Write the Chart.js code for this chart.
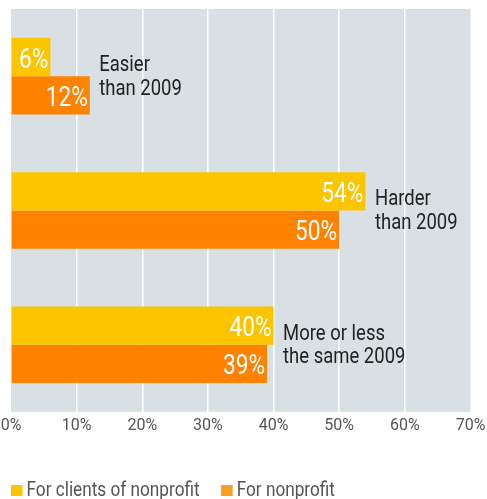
<!DOCTYPE html>
<html>
<head>
<meta charset="utf-8">
<script src="https://cdn.jsdelivr.net/npm/chart.js@4/dist/chart.umd.min.js"></script>
<style>
html,body{margin:0;padding:0;background:#fff;}
#wrap{width:487px;height:499px;position:relative;}
</style>
</head>
<body>
<div id="wrap"><canvas id="c" width="487" height="499"></canvas></div>
<script>
const categories = [["Easier", "than 2009"], ["Harder", "than 2009"], ["More or less", "the same 2009"]];
const seriesNames = ["For clients of nonprofit", "For nonprofit"];
const clientsValues = [6, 54, 40];
const nonprofitValues = [12, 50, 39];
const tickValues = [0, 10, 20, 30, 40, 50, 60, 70];

const FONT = "Roboto, 'Liberation Sans', sans-serif";
const barColors = ["#fcc500", "#ff8200"];
const legendColors = ["#fcc500", "#f5a01e"];

function condText(ctx, text, x, y, align, sx) {
  const w = ctx.measureText(text).width * sx;
  let left = x;
  if (align === 'right') left = x - w;
  else if (align === 'center') left = x - w / 2;
  ctx.save();
  ctx.textAlign = 'left';
  ctx.translate(left, y);
  ctx.scale(sx, 1);
  ctx.fillText(text, 0, 0);
  ctx.restore();
  return w;
}

const bgPlugin = {
  id: 'bg',
  beforeDraw(chart) {
    const {ctx, chartArea: a} = chart;
    ctx.save();
    ctx.fillStyle = '#d9e0e3';
    ctx.fillRect(a.left, a.top, a.right - a.left, a.bottom - a.top);
    ctx.restore();
  }
};

const labelPlugin = {
  id: 'labels',
  afterDatasetsDraw(chart) {
    const ctx = chart.ctx;
    ctx.save();
    // value labels
    ctx.font = "27px " + FONT;
    ctx.fillStyle = '#ffffff';
    ctx.textBaseline = 'alphabetic';
    chart.data.datasets.forEach((ds, di) => {
      const meta = chart.getDatasetMeta(di);
      meta.data.forEach((bar, i) => {
        condText(ctx, ds.data[i] + '%', bar.x - 2, bar.y + 10.5, 'right', 0.84);
      });
    });
    // category labels
    ctx.font = "22px " + FONT;
    ctx.fillStyle = '#222222';
    const m0 = chart.getDatasetMeta(0), m1 = chart.getDatasetMeta(1);
    chart.data.labels.forEach((lab, i) => {
      const maxX = Math.max(m0.data[i].x, m1.data[i].x);
      const cy = (m0.data[i].y + m1.data[i].y) / 2;
      condText(ctx, lab[0], maxX + 9.5, cy - 5, 'left', 0.84);
      condText(ctx, lab[1], maxX + 9.5, cy + 18.5, 'left', 0.84);
    });
    // legend
    const a = chart.chartArea;
    ctx.font = "20px " + FONT;
    let x = a.left;
    const base = 496;
    seriesNames.forEach((n, i) => {
      ctx.fillStyle = legendColors[i];
      ctx.fillRect(x, base - 11, 11.5, 11);
      ctx.fillStyle = '#555555';
      const w = condText(ctx, n, x + 15.5, base, 'left', 0.86);
      x += 15.5 + w + 21.5;
    });
    ctx.restore();
  }
};

new Chart(document.getElementById('c'), {
  type: 'bar',
  data: {
    labels: categories,
    datasets: [
      {label: seriesNames[0], data: clientsValues, backgroundColor: barColors[0]},
      {label: seriesNames[1], data: nonprofitValues, backgroundColor: barColors[1]}
    ]
  },
  options: {
    indexAxis: 'y',
    responsive: false,
    animation: false,
    devicePixelRatio: 1,
    categoryPercentage: 0.57,
    barPercentage: 1,
    layout: {padding: {top: 9, left: 11, right: 16.5, bottom: 58}},
    plugins: {legend: {display: false}, tooltip: {enabled: false}},
    scales: {
      y: {display: false},
      x: {
        min: tickValues[0], max: tickValues[tickValues.length - 1],
        afterBuildTicks(scale) { scale.ticks = tickValues.map(v => ({value: v})); },
        afterFit(scale) { scale.paddingLeft = 0; scale.paddingRight = 0; },
        grid: {
          drawTicks: false,
          color: ctx => (ctx.tick && (ctx.tick.value === 0 || ctx.tick.value === 70)) ? 'rgba(0,0,0,0)' : '#ffffff',
          lineWidth: 1.5
        },
        border: {display: false},
        ticks: {
          padding: 5,
          color: '#555555',
          font: {family: FONT, size: 16},
          callback: v => v + '%'
        }
      }
    }
  },
  plugins: [bgPlugin, labelPlugin]
});
</script>
</body>
</html>
